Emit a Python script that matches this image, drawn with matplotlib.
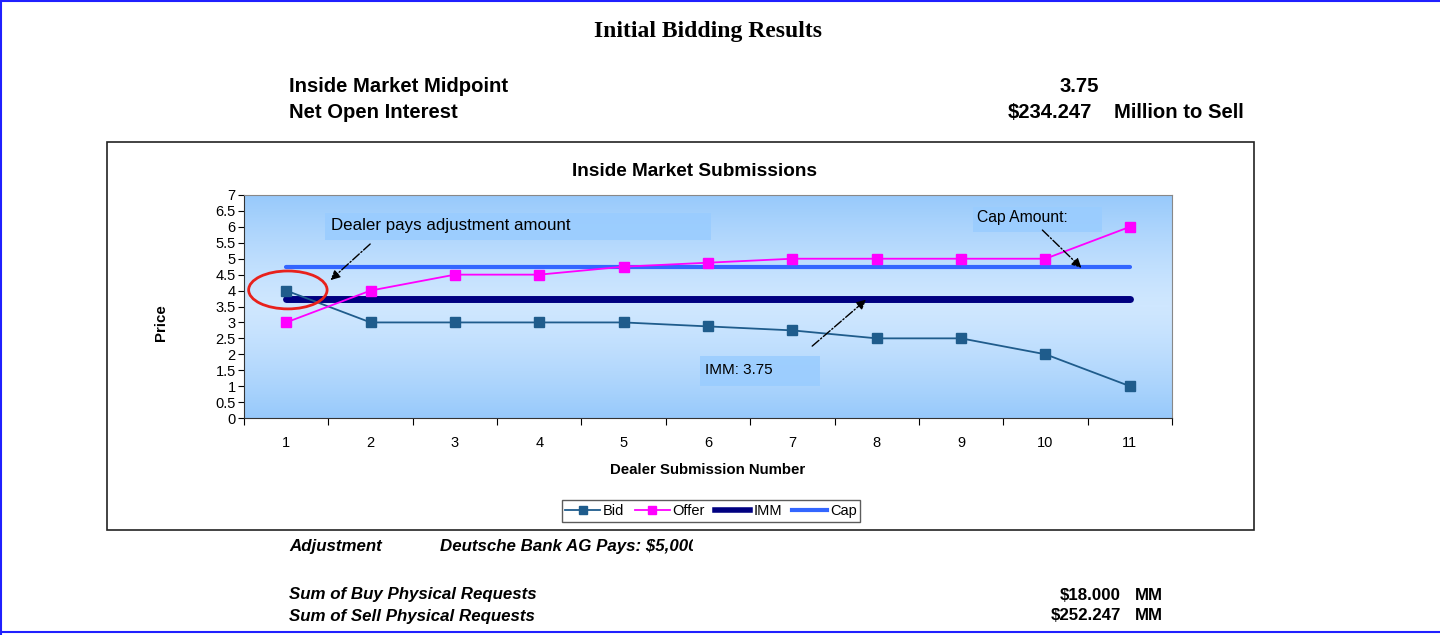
import numpy as np
import matplotlib
matplotlib.use("Agg")
import matplotlib.pyplot as plt
from matplotlib.patches import Rectangle, Ellipse
from matplotlib.lines import Line2D
from matplotlib.colors import LinearSegmentedColormap
from matplotlib.transforms import Bbox, TransformedBbox

# data
dealers = [1, 2, 3, 4, 5, 6, 7, 8, 9, 10, 11]
bid = [4, 3, 3, 3, 3, 2.875, 2.75, 2.5, 2.5, 2, 1]
offer = [3, 4, 4.5, 4.5, 4.75, 4.875, 5, 5, 5, 5, 6]
imm = [3.75] * 11
cap = [4.75] * 11
y_ticks = [0, 0.5, 1, 1.5, 2, 2.5, 3, 3.5, 4, 4.5, 5, 5.5, 6, 6.5, 7]

W, H = 1440, 635
fig = plt.figure(figsize=(W / 100, H / 100), dpi=100)
plt.rcParams['font.family'] = ['Liberation Sans', 'DejaVu Sans']


def fx(px):
    return px / W


def fy(py):
    return 1 - py / H


# page border
for xs, ys in [([0, 1], [fy(1), fy(1)]), ([fx(1), fx(1)], [0, 1]), ([0, 1], [fy(632), fy(632)])]:
    fig.add_artist(Line2D(xs, ys, color='#2020ff', lw=1.5, transform=fig.transFigure))

# header
fig.text(fx(708), fy(32), "Initial Bidding Results", ha='center', va='center',
         fontsize=17, fontweight='bold', family='Liberation Serif')
hk = dict(va='center', fontsize=14.6, fontweight='bold')
fig.text(fx(289), fy(86), "Inside Market Midpoint", ha='left', **hk)
fig.text(fx(1099), fy(86), "3.75", ha='right', **hk)
fig.text(fx(289), fy(112), "Net Open Interest", ha='left', **hk)
fig.text(fx(1092), fy(112), "$234.247", ha='right', **hk)
fig.text(fx(1114), fy(112), "Million to Sell", ha='left', **hk)

# chart frame
fig.add_artist(Rectangle((fx(107), fy(530)), fx(1254 - 107), (530 - 142) / H,
                         transform=fig.transFigure, fill=False, edgecolor='#222222', lw=1.2))
fig.text(fx(694), fy(171), "Inside Market Submissions", ha='center', va='center',
         fontsize=13.7, fontweight='bold')

ax = fig.add_axes([fx(244), fy(418), fx(1172 - 244), (418 - 195) / H])
ax.set_xlim(0.5, 11.5)
ax.set_ylim(0, 7)

# gradient background
grad = np.abs(np.linspace(-1, 1, 256)).reshape(-1, 1) ** 1.3
cmap = LinearSegmentedColormap.from_list('bg', ['#cfe7ff', '#97c9fb'])
ax.imshow(grad, extent=[0.5, 11.5, 0, 7], aspect='auto', cmap=cmap, zorder=0, origin='lower')

ax.plot(dealers, cap, color='#3366ff', lw=3, solid_capstyle='round', zorder=2, label='Cap')
ax.plot(dealers, imm, color='#000080', lw=5, solid_capstyle='round', zorder=2, label='IMM')
ax.plot(dealers, bid, color='#1f5c8c', lw=1.3, marker='s', ms=7, zorder=3, label='Bid')
ax.plot(dealers, offer, color='#ff00ff', lw=1.3, marker='s', ms=7, zorder=3, label='Offer')

# annotation boxes
box_kw = dict(facecolor='#99ccff', edgecolor='none', alpha=0.85, zorder=4)
ax.add_patch(Rectangle((1.46, 5.59), 4.58, 0.84, **box_kw))
ax.text(1.53, 6.05, "Dealer pays adjustment amount", fontsize=12.2, va='center', zorder=5)
ax.add_patch(Rectangle((9.14, 5.84), 1.53, 0.78, **box_kw))
ax.text(9.19, 6.28, "Cap Amount:", fontsize=11.3, va='center', zorder=5)
ax.add_patch(Rectangle((5.905, 1.0), 1.425, 0.95, **box_kw))
ax.text(5.97, 1.5, "IMM: 3.75", fontsize=11, va='center', zorder=5)

arrow_kw = dict(arrowstyle='-|>', linestyle='-.', color='black', lw=1, mutation_scale=14)
ax.annotate("", xy=(1.5, 4.27), xytext=(2.02, 5.52), arrowprops=arrow_kw, zorder=6)
ax.annotate("", xy=(10.45, 4.65), xytext=(9.94, 5.96), arrowprops=arrow_kw, zorder=6)
ax.annotate("", xy=(7.9, 3.77), xytext=(7.21, 2.2), arrowprops=arrow_kw, zorder=6)

ax.add_patch(Ellipse((1.02, 4.02), 0.93, 1.19, fill=False, edgecolor='#e8211c', lw=2, zorder=6))

# axes styling
ax.set_yticks(y_ticks)
ax.set_yticklabels([f"{v:g}" for v in y_ticks], fontsize=10.5)
ax.set_xticks(np.arange(0.5, 12, 1))
ax.set_xticklabels([])
ax.set_xticks(dealers, minor=True)
ax.set_xticklabels([str(d) for d in dealers], minor=True, fontsize=10.5)
ax.tick_params(axis='x', which='minor', length=0, pad=13)
ax.tick_params(axis='x', which='major', length=5, direction='out')
ax.tick_params(axis='y', length=4, direction='out', pad=2)
for s in ['left', 'bottom']:
    ax.spines[s].set_color('#333333')
for s in ['top', 'right']:
    ax.spines[s].set_color('#888888')
ax.set_xlabel("Dealer Submission Number", fontsize=10.8, fontweight='bold', labelpad=9)
fig.text(fx(161), fy(323), "Price", rotation=90, ha='center', va='center',
         fontsize=10.8, fontweight='bold')

handles = [
    Line2D([], [], color='#1f5c8c', marker='s', ms=6, lw=1.3),
    Line2D([], [], color='#ff00ff', marker='s', ms=6, lw=1.3),
    Line2D([], [], color='#000080', lw=4),
    Line2D([], [], color='#3366ff', lw=3),
]
fig.legend(handles, ['Bid', 'Offer', 'IMM', 'Cap'], loc='center', bbox_to_anchor=(fx(711), fy(511)),
           ncol=4, fontsize=10.5, frameon=True, fancybox=False, edgecolor='#333333',
           handlelength=2.4, handletextpad=0.2, columnspacing=0.7, borderpad=0.25,
           borderaxespad=0)

# footer
fk = dict(va='center', fontsize=12.2, fontweight='bold')
fig.text(fx(289), fy(546), "Adjustment", style='italic', **fk)
t = fig.text(fx(440), fy(546), "Deutsche Bank AG Pays: $5,000", style='italic', **fk)
t.set_clip_box(TransformedBbox(Bbox([[0, 0], [fx(693), 1]]), fig.transFigure))
t.set_clip_on(True)
fig.text(fx(289), fy(595), "Sum of Buy Physical Requests", style='italic', **fk)
fig.text(fx(289), fy(616), "Sum of Sell Physical Requests", style='italic', **fk)
fig.text(fx(1121), fy(595), "$18.000", ha='right', **fk)
fig.text(fx(1121), fy(616), "$252.247", ha='right', **fk)
fig.text(fx(1135), fy(595), "MM", **fk)
fig.text(fx(1135), fy(616), "MM", **fk)

fig.savefig("out.png", dpi=100)
